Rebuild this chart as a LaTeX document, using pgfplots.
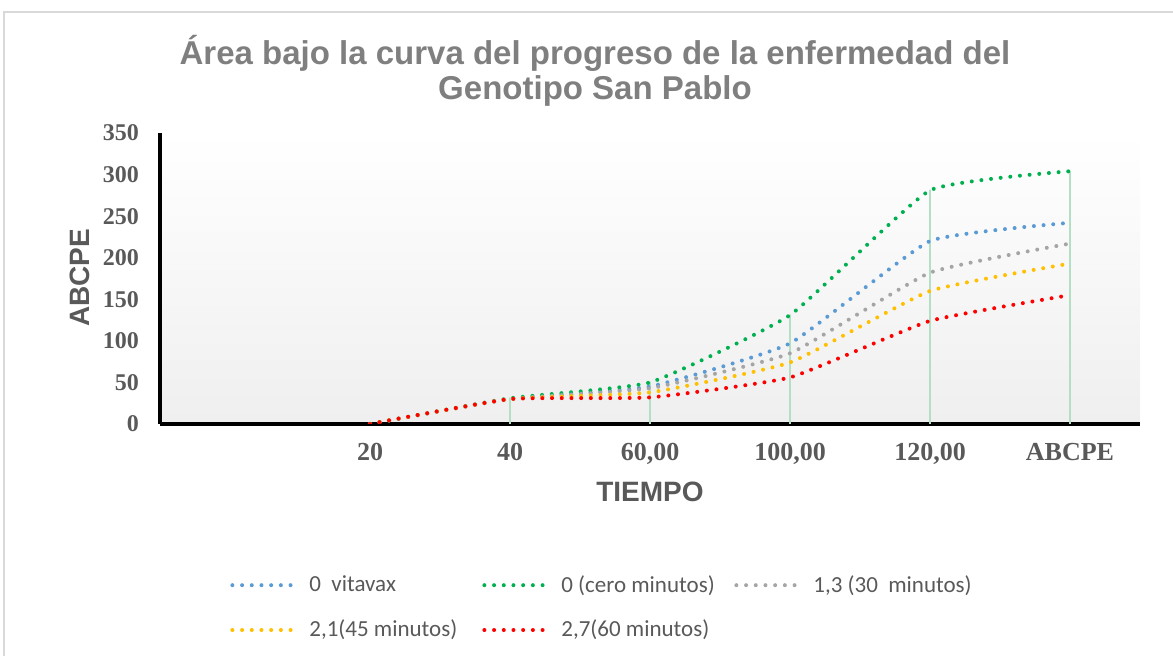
\documentclass[border=0pt]{standalone}
\usepackage{pgfplots}
\pgfplotsset{compat=1.18}
\usepackage{pgfplotstable}
\usepackage{fontspec}
\setmainfont{Liberation Serif}
\newfontfamily\arialfont{Liberation Sans}
\newfontfamily\calfont{Carlito}
\definecolor{txtgray}{HTML}{595959}
\definecolor{titlegray}{HTML}{7F7F7F}
\definecolor{cblue}{HTML}{5B9BD5}
\definecolor{cgreen}{HTML}{00B050}
\definecolor{cgray}{HTML}{A5A5A5}
\definecolor{cyellow}{HTML}{FFC000}
\definecolor{cred}{HTML}{FF0000}
\definecolor{dropc}{HTML}{B3DFC4}
\definecolor{framec}{HTML}{D9D9D9}
\definecolor{bgbot}{HTML}{EFEFEF}

\pgfplotstableread{
x blue green gray yellow red
1 0 0 0 0 0
2 30 31 30 30 30
3 45 50 43 38 32
4 97 131 85 74 56
5 220 281 182 160 124
6 242 304 217 193 155
}\datatable

\begin{document}
\begin{tikzpicture}
\useasboundingbox (0,0) rectangle (586.5pt,-328pt);
\draw[framec, line width=1pt] (2pt,-328pt) -- (2pt,-6pt) -- (586.5pt,-6pt);
\node[font=\arialfont\bfseries\fontsize{16.5}{17.5}\selectfont, text=titlegray, align=center] at (297.5pt,-35.3pt) {Área bajo la curva del progreso de la enfermedad del\\Genotipo San Pablo};
\begin{axis}[
  at={(80pt,-212pt)}, anchor=south west,
  scale only axis, width=490pt, height=145.5pt,
  xmin=-0.5, xmax=6.5, ymin=0, ymax=350,
  xtick={1,2,3,4,5,6},
  xticklabels={20,40,{60,00},{100,00},{120,00},ABCPE},
  ytick={0,50,...,350},
  axis x line=bottom, axis y line=left,
  axis line style={line width=2pt, black, -},
  every outer x axis line/.append style={-},
  every outer y axis line/.append style={-},
  major tick length=0pt,
  tick style={draw=none},
  /pgf/number format/assume math mode=true,
  xticklabel style={font=\bfseries\fontsize{13}{15}\selectfont, text=txtgray, anchor=north, yshift=-6pt},
  yticklabel style={font=\bfseries\fontsize{12}{14}\selectfont, text=txtgray, anchor=east, xshift=-7pt},
  xlabel={TIEMPO}, ylabel={ABCPE},
  xlabel style={font=\arialfont\bfseries\fontsize{14}{16}\selectfont, text=txtgray, at={(axis description cs:0.5,0)}, anchor=center, yshift=-34pt},
  ylabel style={font=\arialfont\bfseries\fontsize{14}{16}\selectfont, text=txtgray, at={(axis description cs:-0.0816,0.502)}, anchor=center, rotate=0},
  axis background/.style={top color=white, bottom color=bgbot},
  every axis plot/.append style={line width=2pt, line cap=round, dash pattern=on 0pt off 4.85pt, smooth, tension=0.25},
  legend image code/.code={\draw[#1] (0.5pt,0pt) -- (31pt,0pt);},
  legend columns=3,
  legend style={at={(axis description cs:0.0714,-0.5185)}, anchor=north west, draw=none, fill=none,
    font=\calfont\fontsize{11.5}{13}\selectfont, text=txtgray, inner sep=0pt,
    /tikz/column sep=0pt, /tikz/row sep=12.5pt,
    nodes={inner sep=0pt}},
]
\addplot[ycomb, draw=dropc, line width=1pt, solid, forget plot] table[x=x,y=green] {\datatable};
\addplot[cblue] table[x=x,y=blue] {\datatable};
\addlegendentry{\hspace{7pt}\makebox[86.5pt][l]{0\ \ vitavax}}
\addplot[cgreen] table[x=x,y=green] {\datatable};
\addlegendentry{\hspace{7pt}\makebox[86.5pt][l]{0 (cero minutos)}}
\addplot[cgray] table[x=x,y=gray] {\datatable};
\addlegendentry{\hspace{7pt}\makebox[86.5pt][l]{1,3 (30\ \ minutos)}}
\addplot[cyellow] table[x=x,y=yellow] {\datatable};
\addlegendentry{\hspace{7pt}\makebox[86.5pt][l]{2,1(45 minutos)}}
\addplot[cred] table[x=x,y=red] {\datatable};
\addlegendentry{\hspace{7pt}\makebox[86.5pt][l]{2,7(60 minutos)}}
\end{axis}
\end{tikzpicture}
\end{document}
